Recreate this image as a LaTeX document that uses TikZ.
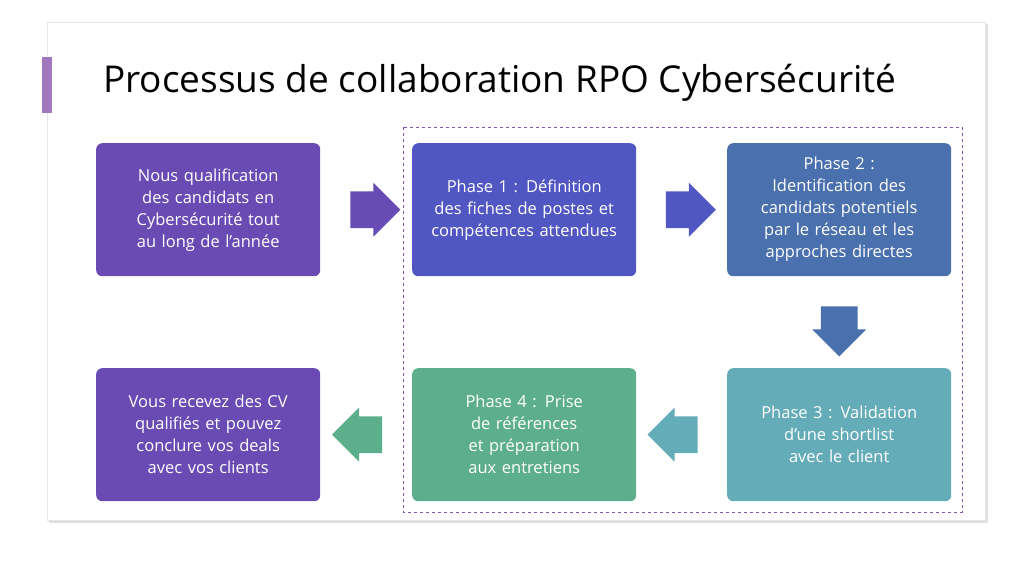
\documentclass[tikz,border=0pt]{standalone}
\usepackage{fontspec}
\setmainfont{Open Sans}
\usetikzlibrary{positioning,shapes.arrows,calc}
\definecolor{cviolet}{HTML}{6A4BB4}
\definecolor{cindigo}{HTML}{5157C2}
\definecolor{cblue}{HTML}{4A70AE}
\definecolor{cteal}{HTML}{64ACB8}
\definecolor{cgreen}{HTML}{5DAE8B}
\definecolor{cframe}{HTML}{8A55B0}
\newcommand{\nohyph}{\hyphenpenalty=10000\relax}
\tikzset{
  stepbox/.style={draw=none,rounded corners=6pt,minimum width=224pt,minimum height=133pt,
    text width=188pt,align=center,text=white,font=\fontsize{16.5}{22}\selectfont\nohyph,anchor=north west},
  flecha/.style={single arrow,draw=none,minimum height=50pt,minimum width=54pt,
    text height=15pt,text depth=15pt,inner sep=0pt,single arrow tip angle=90}
}
\begin{document}
\begin{tikzpicture}[x=1pt,y=-1pt]
  \useasboundingbox (0,0) rectangle (1024,575);
  % slide
  \fill[black!12] (49,24) rectangle (988,523);
  \fill[white,draw=black!10] (47,22) rectangle (985,520);
  \fill[cframe!80] (42,57) rectangle (52,113);
  \node[anchor=west,font=\fontsize{37}{40}\selectfont,inner sep=0pt] (titre) at (103,83) {Processus de collaboration RPO Cybersécurité};
  % dashed frame
  \draw[cframe,dashed] (403,127) rectangle (962,512);
  % boxes
  \node[stepbox,fill=cviolet] (qualif) at (96,143) {Nous qualification des candidats en Cybersécurité tout au long de l'année};
  \node[stepbox,fill=cindigo] (phase1) at (412,143) {Phase 1 : Définition des fiches de postes et compétences attendues};
  \node[stepbox,fill=cblue] (phase2) at (727,143) {Phase 2 :\\ Identification des candidats potentiels par le réseau et les approches directes};
  \node[stepbox,fill=cteal] (phase3) at (727,368) {Phase 3 : Validation d’une shortlist avec le client};
  \node[stepbox,fill=cgreen] (phase4) at (412,368) {Phase 4 : Prise de références et préparation aux entretiens};
  \node[stepbox,fill=cviolet] (cv) at (96,368) {Vous recevez des CV qualifiés et pouvez conclure vos deals avec vos clients};
  % arrows
  \node[flecha,fill=cviolet!90!cindigo] (f1) at ($(qualif.east)!0.5!(phase1.west)$) {};
  \node[flecha,fill=cindigo] (f2) at ($(phase1.east)!0.5!(phase2.west)$) {};
  \node[flecha,fill=cblue,rotate=-90] (f3) at ($(phase2.south)!0.5!(phase3.north)$) {};
  \node[flecha,fill=cteal,rotate=180] (f4) at ($(phase3.west)!0.5!(phase4.east)$) {};
  \node[flecha,fill=cgreen,rotate=180] (f5) at ($(phase4.west)!0.5!(cv.east)$) {};
\end{tikzpicture}
\end{document}
